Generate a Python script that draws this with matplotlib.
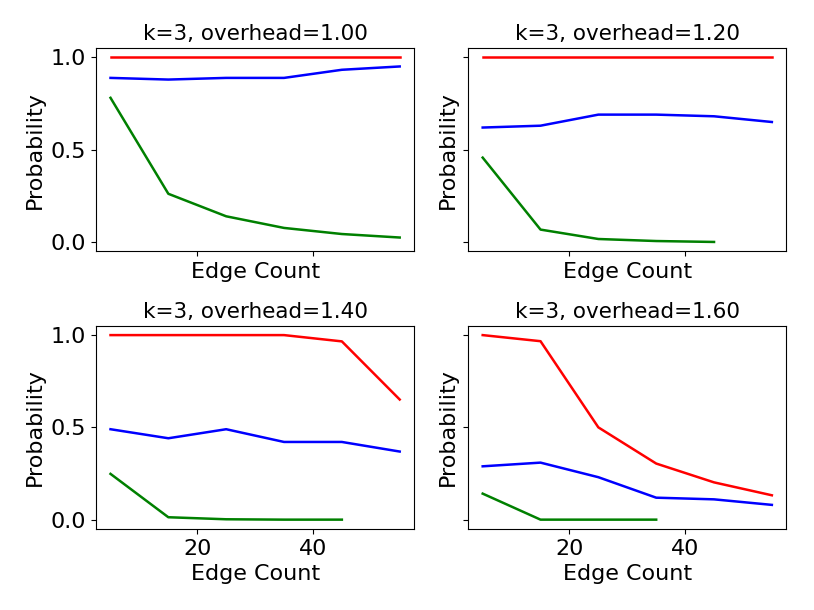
import matplotlib
matplotlib.use("Agg")
import matplotlib.pyplot as plt

edge_counts = [5, 15, 25, 35, 45, 55]
overheads = [1.00, 1.20, 1.40, 1.60]

red_series = [
    [1.0, 1.0, 1.0, 1.0, 1.0, 1.0],
    [1.0, 1.0, 1.0, 1.0, 1.0, 1.0],
    [1.0, 1.0, 1.0, 1.0, 0.966, 0.651],
    [1.0, 0.967, 0.50, 0.304, 0.202, 0.132],
]
blue_series = [
    [0.889, 0.880, 0.889, 0.889, 0.933, 0.951],
    [0.62, 0.63, 0.69, 0.69, 0.681, 0.65],
    [0.49, 0.441, 0.49, 0.421, 0.421, 0.369],
    [0.289, 0.309, 0.23, 0.119, 0.11, 0.08],
]
green_series = [
    [0.781, 0.261, 0.139, 0.076, 0.043, 0.024],
    [0.457, 0.067, 0.016, 0.005, 0.0],
    [0.248, 0.013, 0.002, 0.0, 0.0],
    [0.141, 0.0, 0.0, 0.0],
]

FS = 16
fig, axes = plt.subplots(2, 2, figsize=(8.14, 6.10), dpi=100, sharex=True, sharey=True)
fig.subplots_adjust(left=0.118, right=0.966, top=0.921, bottom=0.133, wspace=0.17, hspace=0.368)

for i, ax in enumerate(axes.flat):
    r = red_series[i]
    b = blue_series[i]
    g = green_series[i]
    ax.plot(edge_counts[:len(r)], r, color='red', lw=1.8)
    ax.plot(edge_counts[:len(b)], b, color='blue', lw=1.8)
    ax.plot(edge_counts[:len(g)], g, color='green', lw=1.8)
    ax.set_title(f"k=3, overhead={overheads[i]:.2f}", fontsize=15.5)
    ax.set_xlabel("Edge Count", fontsize=FS)
    ax.set_ylabel("Probability", fontsize=FS)
    ax.tick_params(labelsize=FS)
    ax.set_xticks([20, 40])
    ax.set_yticks([0.0, 0.5, 1.0])

fig.savefig("out.png", dpi=100)
